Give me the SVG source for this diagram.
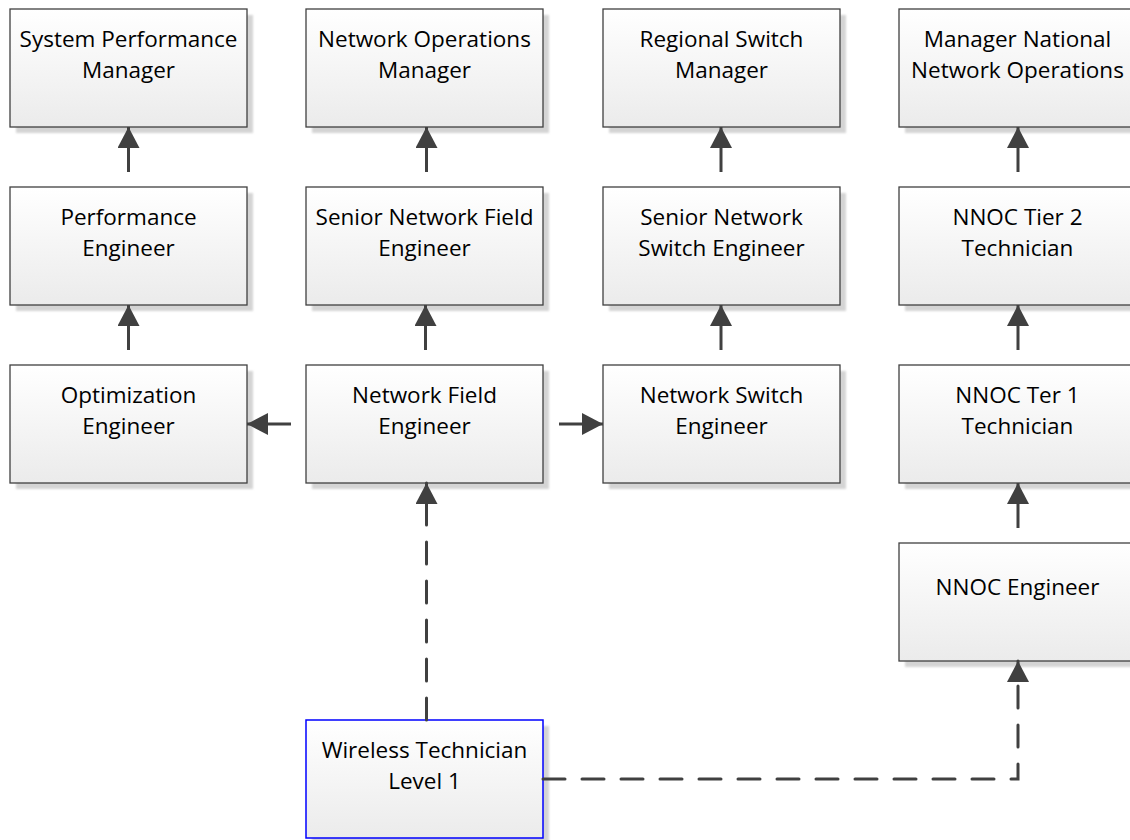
<svg xmlns="http://www.w3.org/2000/svg" width="1130" height="840" viewBox="0 0 1130 840">
<style>
.shadow{fill:#d4d4d4;filter:url(#blur)}
.box{fill:url(#grad);stroke:#404040;stroke-width:1.3}
.blue{stroke:#0000ff;stroke-width:1.5}
.txt{font-family:"Open Sans","Liberation Sans",sans-serif;font-size:22.5px;fill:#000;text-anchor:middle}
.conn{fill:none;stroke:#404040;stroke-width:3;marker-end:url(#arrow)}
.dash{stroke-dasharray:22 17;stroke-linecap:round}
</style>
<defs>
<linearGradient id="grad" x1="0" y1="0" x2="0" y2="1">
<stop offset="0" stop-color="#ffffff"/>
<stop offset="1" stop-color="#ebebeb"/>
</linearGradient>
<filter id="blur" x="-5%" y="-5%" width="110%" height="110%"><feGaussianBlur stdDeviation="1.2"/></filter>
<marker id="arrow" viewBox="0 0 21 22" refX="21" refY="11" markerWidth="21" markerHeight="22" markerUnits="userSpaceOnUse" orient="auto">
<path d="M0,0 L21,11 L0,22 z" fill="#404040"/>
</marker>
</defs>
<rect width="1130" height="840" fill="#ffffff"/>

<g id="n-spm"><rect class="shadow" x="16" y="15" width="237" height="118"/><rect class="box" x="10" y="9" width="237" height="118"/><text class="txt" x="128.5" y="47">System Performance</text><text class="txt" x="128.5" y="78">Manager</text></g>
<g id="n-nom"><rect class="shadow" x="312" y="15" width="237" height="118"/><rect class="box" x="306" y="9" width="237" height="118"/><text class="txt" x="424.5" y="47">Network Operations</text><text class="txt" x="424.5" y="78">Manager</text></g>
<g id="n-rsm"><rect class="shadow" x="609" y="15" width="237" height="118"/><rect class="box" x="603" y="9" width="237" height="118"/><text class="txt" x="721.5" y="47">Regional Switch</text><text class="txt" x="721.5" y="78">Manager</text></g>
<g id="n-mnno"><rect class="shadow" x="905" y="15" width="237" height="118"/><rect class="box" x="899" y="9" width="237" height="118"/><text class="txt" x="1017.5" y="47">Manager National</text><text class="txt" x="1017.5" y="78">Network Operations</text></g>

<g id="n-pe"><rect class="shadow" x="16" y="193" width="237" height="118"/><rect class="box" x="10" y="187" width="237" height="118"/><text class="txt" x="128.5" y="225">Performance</text><text class="txt" x="128.5" y="256">Engineer</text></g>
<g id="n-snfe"><rect class="shadow" x="312" y="193" width="237" height="118"/><rect class="box" x="306" y="187" width="237" height="118"/><text class="txt" x="424.5" y="225">Senior Network Field</text><text class="txt" x="424.5" y="256">Engineer</text></g>
<g id="n-snse"><rect class="shadow" x="609" y="193" width="237" height="118"/><rect class="box" x="603" y="187" width="237" height="118"/><text class="txt" x="721.5" y="225">Senior Network</text><text class="txt" x="721.5" y="256">Switch Engineer</text></g>
<g id="n-t2"><rect class="shadow" x="905" y="193" width="237" height="118"/><rect class="box" x="899" y="187" width="237" height="118"/><text class="txt" x="1017.5" y="225">NNOC Tier 2</text><text class="txt" x="1017.5" y="256">Technician</text></g>

<g id="n-oe"><rect class="shadow" x="16" y="371" width="237" height="118"/><rect class="box" x="10" y="365" width="237" height="118"/><text class="txt" x="128.5" y="403">Optimization</text><text class="txt" x="128.5" y="434">Engineer</text></g>
<g id="n-nfe"><rect class="shadow" x="312" y="371" width="237" height="118"/><rect class="box" x="306" y="365" width="237" height="118"/><text class="txt" x="424.5" y="403">Network Field</text><text class="txt" x="424.5" y="434">Engineer</text></g>
<g id="n-nse"><rect class="shadow" x="609" y="371" width="237" height="118"/><rect class="box" x="603" y="365" width="237" height="118"/><text class="txt" x="721.5" y="403">Network Switch</text><text class="txt" x="721.5" y="434">Engineer</text></g>
<g id="n-t1"><rect class="shadow" x="905" y="371" width="237" height="118"/><rect class="box" x="899" y="365" width="237" height="118"/><text class="txt" x="1017.5" y="403">NNOC Ter 1</text><text class="txt" x="1017.5" y="434">Technician</text></g>

<g id="n-ne"><rect class="shadow" x="905" y="549" width="237" height="118"/><rect class="box" x="899" y="543" width="237" height="118"/><text class="txt" x="1017.5" y="595">NNOC Engineer</text></g>

<g id="n-wt"><rect class="shadow" x="312" y="726" width="237" height="118"/><rect class="box blue" x="306" y="720" width="237" height="118"/><text class="txt" x="424.5" y="758">Wireless Technician</text><text class="txt" x="424.5" y="789">Level 1</text></g>

<g id="connectors">
<path class="conn" d="M128.5,172 V127"/>
<path class="conn" d="M128.5,350 V305"/>
<path class="conn" d="M426.5,172 V127"/>
<path class="conn" d="M425.5,350 V305"/>
<path class="conn" d="M721,172 V127"/>
<path class="conn" d="M721,350 V305"/>
<path class="conn" d="M1018,172 V127"/>
<path class="conn" d="M1018,350 V305"/>
<path class="conn" d="M1018,528 V483"/>
<path class="conn" d="M291,424 H247"/>
<path class="conn" d="M559,424 H603"/>
<path class="conn dash" d="M426.5,720 V483"/>
<path class="conn dash" d="M543,779 H1018 V661"/>
</g>
</svg>
